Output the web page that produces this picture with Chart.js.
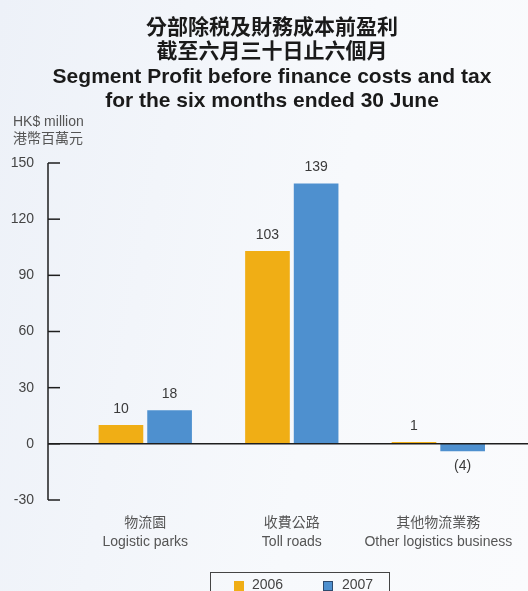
<!DOCTYPE html>
<html>
<head>
<meta charset="utf-8">
<script src="https://cdn.jsdelivr.net/npm/chart.js@4"></script>
<style>
  html, body { margin: 0; padding: 0; }
  body { width: 528px; height: 591px; overflow: hidden;
    background: linear-gradient(100deg, #edf1f8 0%, #f2f5fa 30%, #f7f9fc 60%, #fafbfd 100%); }
  canvas { display: block; }
</style>
</head>
<body>
<canvas id="c" width="528" height="591"></canvas>
<script>
const titleLines = ['分部除税及財務成本前盈利', '截至六月三十日止六個月', 'Segment Profit before finance costs and tax', 'for the six months ended 30 June'];
const unitLines = ['HK$ million', '港幣百萬元'];
const categories = [['物流園', 'Logistic parks'], ['收費公路', 'Toll roads'], ['其他物流業務', 'Other logistics business']];
const seriesNames = ['2006', '2007'];
const values2006 = [10, 103, 1];
const values2007 = [18, 139, -4];
const valueLabels2006 = ['10', '103', '1'];
const valueLabels2007 = ['18', '139', '(4)'];
const yTicks = [-30, 0, 30, 60, 90, 120, 150];

const FONT = "'Liberation Sans', 'Noto Sans CJK TC', sans-serif";
const ORANGE = '#f0ae15';
const BLUE = '#4e90cf';

const decor = {
  id: 'decor',
  afterDatasetsDraw(chart) {
    const ctx = chart.ctx;
    const y = chart.scales.y;
    const area = chart.chartArea;
    const axX = area.left - 24;
    ctx.save();
    // zero line
    ctx.strokeStyle = '#1e1e1e';
    ctx.lineWidth = 1.5;
    ctx.beginPath();
    const y0 = y.getPixelForValue(0);
    ctx.moveTo(axX, y0); ctx.lineTo(chart.width, y0);
    ctx.stroke();
    // y axis line
    ctx.beginPath();
    ctx.moveTo(axX, y.getPixelForValue(yTicks[yTicks.length - 1]));
    ctx.lineTo(axX, y.getPixelForValue(yTicks[0]));
    ctx.stroke();
    // ticks + tick labels
    ctx.font = '14px ' + FONT;
    ctx.fillStyle = '#444';
    ctx.textAlign = 'right';
    ctx.textBaseline = 'middle';
    yTicks.forEach(v => {
      const py = y.getPixelForValue(v);
      ctx.beginPath();
      ctx.moveTo(axX, py); ctx.lineTo(axX + 12, py);
      ctx.stroke();
      ctx.fillText(String(v), axX - 14, py);
    });
    // value labels
    ctx.font = '14px ' + FONT;
    ctx.fillStyle = '#3a3a3a';
    ctx.textAlign = 'center';
    ctx.textBaseline = 'middle';
    const labelSets = [valueLabels2006, valueLabels2007];
    chart.data.datasets.forEach((ds, di) => {
      const meta = chart.getDatasetMeta(di);
      meta.data.forEach((bar, i) => {
        const v = ds.data[i];
        const ty = v >= 0 ? bar.y - 16 : bar.y + 15;
        ctx.fillText(labelSets[di][i], bar.x, ty);
      });
    });
    // unit title
    ctx.font = '14px ' + FONT;
    ctx.fillStyle = '#555';
    ctx.textAlign = 'left';
    ctx.fillText(unitLines[0], 13, 122);
    ctx.fillText(unitLines[1], 13, 139);
    // legend
    const lx = 210, ly = 572, lw = 179, lh = 30;
    ctx.strokeStyle = '#444';
    ctx.lineWidth = 1;
    ctx.strokeRect(lx + 0.5, ly + 0.5, lw, lh);
    ctx.fillStyle = ORANGE;
    ctx.fillRect(234, 581, 10, 10);
    ctx.fillStyle = BLUE;
    ctx.fillRect(323, 581, 10, 10);
    ctx.strokeStyle = '#2d4a6e';
    ctx.strokeRect(323.5, 581.5, 9, 9);
    ctx.fillStyle = '#444';
    ctx.textBaseline = 'middle';
    ctx.fillText(seriesNames[0], 252, 585);
    ctx.fillText(seriesNames[1], 342, 585);
    ctx.restore();
  }
};

new Chart(document.getElementById('c'), {
  type: 'bar',
  data: {
    labels: categories,
    datasets: [
      { label: seriesNames[0], data: values2006, backgroundColor: ORANGE, barPercentage: 0.918, categoryPercentage: 0.664 },
      { label: seriesNames[1], data: values2007, backgroundColor: BLUE, barPercentage: 0.918, categoryPercentage: 0.664 }
    ]
  },
  options: {
    responsive: false,
    devicePixelRatio: 1,
    animation: false,
    layout: { padding: { left: 29.5, right: 13.5, top: 0, bottom: 23 } },
    plugins: {
      legend: { display: false },
      tooltip: { enabled: false },
      title: {
        display: true,
        text: titleLines,
        color: '#1a1a1a',
        font: { family: FONT, size: 21, weight: 'bold', lineHeight: 24.4 / 21 },
        padding: { top: 16, bottom: 49.4 }
      }
    },
    scales: {
      x: {
        grid: { display: false, drawTicks: false },
        border: { display: false },
        ticks: { color: '#555', autoSkip: false, font: { family: FONT, size: 14, lineHeight: 19 / 14 }, padding: 13.5, maxRotation: 0 },
        afterFit(s) { s.height = 68; }
      },
      y: {
        min: -30, max: 150,
        grid: { display: false, drawTicks: false },
        border: { display: false },
        ticks: { display: false, stepSize: 30 },
        afterFit(s) { s.width = 42.5; }
      }
    }
  },
  plugins: [decor]
});
</script>
</body>
</html>
